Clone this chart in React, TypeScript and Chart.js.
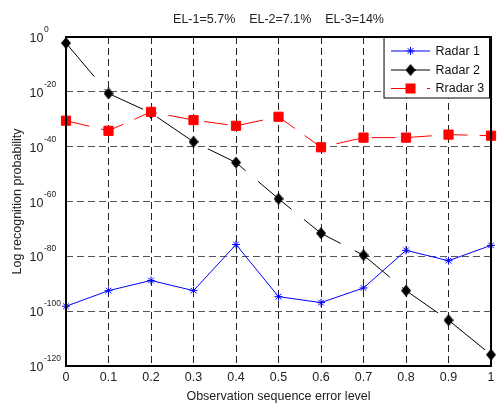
import React, { useEffect, useRef } from "react";
import { Chart, registerables } from "chart.js";

Chart.register(...registerables);

// ---- data ----
const errorLevels = [0, 0.1, 0.2, 0.3, 0.4, 0.5, 0.6, 0.7, 0.8, 0.9, 1];
const radar1 = [6e-99, 3e-93, 1.6e-89, 3e-93, 2e-76, 2e-95, 1.3e-97, 3e-92, 1.6e-78, 2.5e-82, 1e-76];
const radar2 = [6e-3, 2.5e-21, 2e-28, 6e-39, 1.6e-46, 1e-59, 2.5e-72, 2.5e-80, 3e-93, 5e-104, 1.3e-116];
const radar3 = [3e-31, 6e-35, 5e-28, 5e-31, 4e-33, 8e-30, 6e-41, 2e-37, 2e-37, 2.5e-36, 1e-36];
const seriesNames = ["Radar 1", "Radar 2", "Rradar 3"];

const xTickValues = [0, 0.1, 0.2, 0.3, 0.4, 0.5, 0.6, 0.7, 0.8, 0.9, 1];
const xTickLabels = ["0", "0.1", "0.2", "0.3", "0.4", "0.5", "0.6", "0.7", "0.8", "0.9", "1"];
const yTickValues = [1, 1e-20, 1e-40, 1e-60, 1e-80, 1e-100, 1e-120];
const yTickExponents = ["0", "-20", "-40", "-60", "-80", "-100", "-120"];

const titleText = "EL-1=5.7%    EL-2=7.1%    EL-3=14%";
const xTitle = "Observation sequence error level";
const yTitle = "Log recognition probability";

const FONT = '"Liberation Sans", Arial, Helvetica, sans-serif';
const TEXT = "#222";

function makeDiamond(): HTMLCanvasElement {
  const c = document.createElement("canvas");
  const w = 10;
  const h = 12;
  c.width = w;
  c.height = h;
  const g = c.getContext("2d")!;
  g.fillStyle = "#000";
  g.beginPath();
  g.moveTo(w / 2, 0);
  g.lineTo(w, h / 2);
  g.lineTo(w / 2, h);
  g.lineTo(0, h / 2);
  g.closePath();
  g.fill();
  return c;
}

export default function App() {
  const ref = useRef<HTMLCanvasElement | null>(null);

  useEffect(() => {
    document.body.style.margin = "0";
    const canvas = ref.current;
    if (!canvas) return;
    const diamond = makeDiamond();

    const overlay = {
      id: "overlay",
      afterDraw(chart: any) {
        const ctx = chart.ctx as CanvasRenderingContext2D;
        const a = chart.chartArea;
        const ys = chart.scales.y;
        ctx.save();
        ctx.setLineDash([]);
        // plot box
        ctx.strokeStyle = "#000";
        ctx.lineWidth = 2;
        ctx.strokeRect(a.left, a.top, a.right - a.left, a.bottom - a.top);

        // y tick labels 10^n
        ctx.fillStyle = TEXT;
        ctx.textAlign = "left";
        ctx.textBaseline = "alphabetic";
        yTickValues.forEach((v, i) => {
          const py = ys.getPixelForValue(v);
          ctx.font = `12.5px ${FONT}`;
          ctx.fillText("10", 29.5, py + 5);
          const w = ctx.measureText("10").width;
          ctx.font = `8.5px ${FONT}`;
          ctx.fillText(yTickExponents[i], 29.5 + w + 0.5, py - 5);
        });

        // legend
        const lx = a.right - 107.5;
        const ly = a.top;
        const lw = 106.5;
        const lh = 61.5;
        ctx.fillStyle = "#fff";
        ctx.fillRect(lx, ly, lw, lh);
        ctx.strokeStyle = "#000";
        ctx.lineWidth = 1;
        ctx.strokeRect(lx + 0.5, ly + 0.5, lw - 1, lh - 1);

        const rows = [ly + 14, ly + 33, ly + 51.5];
        const x0 = lx + 7.5;
        const x1 = lx + 46.5;
        const xm = lx + 27;
        const tx = lx + 52;

        // Radar 1
        ctx.strokeStyle = "#0000ff";
        ctx.lineWidth = 1;
        ctx.beginPath();
        ctx.moveTo(x0, rows[0]);
        ctx.lineTo(x1, rows[0]);
        ctx.stroke();
        ctx.beginPath();
        const r = 4;
        ctx.moveTo(xm - r, rows[0]);
        ctx.lineTo(xm + r, rows[0]);
        ctx.moveTo(xm, rows[0] - r);
        ctx.lineTo(xm, rows[0] + r);
        const d = r * Math.SQRT1_2;
        ctx.moveTo(xm - d, rows[0] - d);
        ctx.lineTo(xm + d, rows[0] + d);
        ctx.moveTo(xm - d, rows[0] + d);
        ctx.lineTo(xm + d, rows[0] - d);
        ctx.stroke();

        // Radar 2
        ctx.strokeStyle = "#000";
        ctx.beginPath();
        ctx.moveTo(x0, rows[1]);
        ctx.lineTo(x1, rows[1]);
        ctx.stroke();
        ctx.drawImage(diamond, xm - diamond.width / 2, rows[1] - diamond.height / 2);

        // Radar 3
        ctx.strokeStyle = "#ff0000";
        ctx.setLineDash([24, 12]);
        ctx.beginPath();
        ctx.moveTo(x0, rows[2]);
        ctx.lineTo(x1, rows[2]);
        ctx.stroke();
        ctx.setLineDash([]);
        ctx.fillStyle = "#ff0000";
        ctx.fillRect(xm - 5, rows[2] - 5, 10, 10);

        ctx.fillStyle = "#111";
        ctx.font = `12.5px ${FONT}`;
        ctx.textBaseline = "middle";
        seriesNames.forEach((n, i) => ctx.fillText(n, tx, rows[i] + 0.5));

        ctx.restore();
      },
    };

    const pts = (vals: number[]) => vals.map((v, i) => ({ x: errorLevels[i], y: v }));

    const chart = new Chart(canvas, {
      type: "line",
      data: {
        datasets: [
          {
            label: seriesNames[0],
            data: pts(radar1),
            borderColor: "#0000ff",
            backgroundColor: "#0000ff",
            borderWidth: 1,
            pointStyle: "star",
            pointRadius: 4,
            pointBorderWidth: 1,
            pointBorderColor: "#0000ff",
            tension: 0,
            clip: false,
            order: 2,
          },
          {
            label: seriesNames[1],
            data: pts(radar2),
            borderColor: "#000",
            backgroundColor: "#000",
            borderWidth: 1,
            borderDash: [44, 16],
            pointStyle: diamond,
            pointRadius: 5,
            tension: 0,
            clip: false,
            order: 1,
          },
          {
            label: seriesNames[2],
            data: pts(radar3),
            borderColor: "#ff0000",
            backgroundColor: "#ff0000",
            borderWidth: 1,
            borderDash: [24, 12],
            pointStyle: "rect",
            pointRadius: 6.5,
            pointBorderWidth: 1,
            pointBorderColor: "#ff0000",
            pointBackgroundColor: "#ff0000",
            tension: 0,
            clip: false,
            order: 0,
          },
        ] as any,
      },
      options: {
        responsive: false,
        animation: false,
        events: [],
        layout: { padding: { left: 0, right: 5, top: 0, bottom: 0 } },
        plugins: {
          legend: { display: false },
          tooltip: { enabled: false },
          title: {
            display: true,
            text: titleText,
            fullSize: false,
            color: TEXT,
            font: { family: FONT, size: 12.5, weight: "normal" },
            padding: { top: 12, bottom: 10 },
          },
        },
        scales: {
          x: {
            type: "linear",
            min: 0,
            max: 1,
            afterBuildTicks: (s: any) => {
              s.ticks = xTickValues.map((v) => ({ value: v }));
            },
            afterFit: (s: any) => {
              s.height = 42;
            },
            ticks: {
              autoSkip: false,
              maxRotation: 0,
              padding: 4.5,
              color: TEXT,
              font: { family: FONT, size: 12.5 },
              callback: (_v: any, i: number) => xTickLabels[i],
            },
            grid: { color: "#222", lineWidth: 1, drawTicks: false },
            border: { display: false, dash: [7, 4] },
            title: {
              display: true,
              text: xTitle,
              color: TEXT,
              font: { family: FONT, size: 12.5 },
              padding: { top: 0, bottom: 3.5 },
            },
          },
          y: {
            type: "logarithmic",
            min: 1e-120,
            max: 1,
            afterBuildTicks: (s: any) => {
              s.ticks = yTickValues.map((v) => ({ value: v }));
            },
            afterFit: (s: any) => {
              s.width = 66;
            },
            ticks: { display: false },
            grid: { color: "#555", lineWidth: 1, drawTicks: false },
            border: { display: false, dash: [7, 4] },
            title: {
              display: true,
              text: yTitle,
              color: TEXT,
              font: { family: FONT, size: 12.5 },
              padding: { top: 10, bottom: 0 },
            },
          },
        },
      } as any,
      plugins: [overlay],
    });

    return () => chart.destroy();
  }, []);

  return (
    <div style={{ width: 499, height: 408 }}>
      <canvas ref={ref} width={499} height={408} style={{ display: "block" }} />
    </div>
  );
}
